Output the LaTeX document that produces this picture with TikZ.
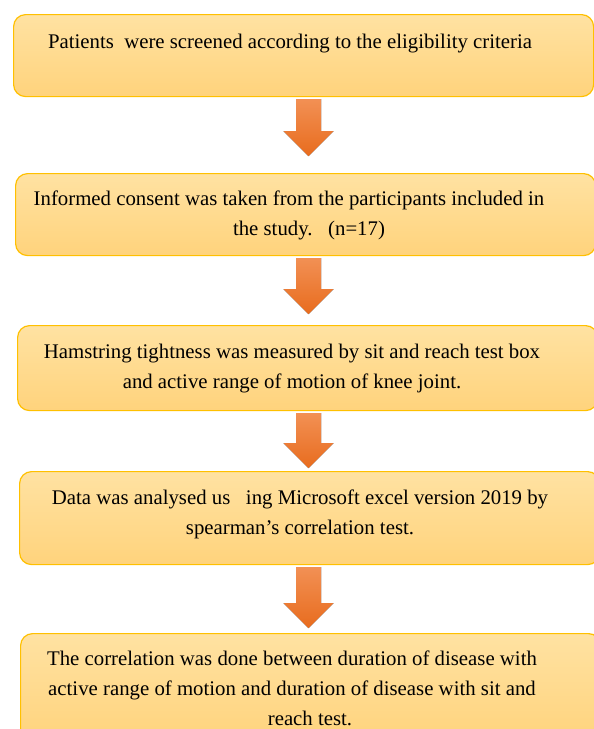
\documentclass[tikz,border=0pt]{standalone}
\usepackage{fontspec}
\setmainfont{Liberation Serif}
\usetikzlibrary{
  positioning,
  calc
}
\definecolor{goldline}{RGB}{255,192,0}
\definecolor{goldtop}{RGB}{255,226,162}
\definecolor{goldbot}{RGB}{255,211,124}
\definecolor{orangetop}{RGB}{242,144,84}
\definecolor{orangebot}{RGB}{232,108,30}

\begin{document}
\begin{tikzpicture}[x=1pt, y=1pt,
            stepbox/.style={rectangle, draw=goldline, line width=1.2pt, top color=goldtop, bottom color=goldbot, rounded corners=12pt, minimum width=580pt, anchor=north west, inner sep=0pt},
            steptext/.style={font=\fontsize{20.8}{30}\selectfont, align=center, inner sep=0pt, text=black},
            flowarrow/.style={top color=orangetop, bottom color=orangebot}]
            \useasboundingbox (0,0) rectangle (594,-729);
            \clip (0,0) rectangle (594,-729);
            \coordinate (mid) at (308.5,0);
            % boxes
            \node [stepbox, minimum height=82pt] (b1) at (13,-14) {};
            \node [stepbox, minimum height=82pt] (b2) at (15,-173) {};
            \node [stepbox, minimum height=85pt] (b3) at (17,-325) {};
            \node [stepbox, minimum height=93pt] (b4) at (19,-471) {};
            \node [stepbox, minimum height=110pt] (b5) at (20,-633) {};
            % texts
            \node [steptext] (t1) at (290,-44) {Patients\ \ were screened according to the eligibility criteria};
            \node [steptext] (t2) at (309,-215) {Informed consent was taken from the participants included in\hspace*{40pt}\\the study.\ \ \ (n=17)};
            \node [steptext] (t3) at (292,-369) {Hamstring tightness was measured by sit and reach test box\\and active range of motion of knee joint.};
            \node [steptext] (t4) at (300,-514) {Data was analysed us\ \ \ ing Microsoft excel version 2019 by\\spearman’s correlation test.};
            \node [steptext] (t5) at (292,-688) {The correlation was done between duration of disease with\\active range of motion and duration of disease with sit and\\\hspace*{36pt}reach test.};
            % block arrows
            \foreach \a/\b/\gap in {b1/b2/17, b2/b3/11, b3/b4/3, b4/b5/5} {
              \path (\a.south -| mid) ++(0,-2) coordinate (top) (\b.north -| mid) ++(0,\gap) coordinate (tip);
              \fill [flowarrow] ($(top)+(-12.5,0)$) -- ($(top)+(12.5,0)$) -- ($(tip)+(12.5,25)$) -- ($(tip)+(25,25)$) -- (tip) -- ($(tip)+(-25,25)$) -- ($(tip)+(-12.5,25)$) -- cycle;
            }
        \end{tikzpicture}
\end{document}
